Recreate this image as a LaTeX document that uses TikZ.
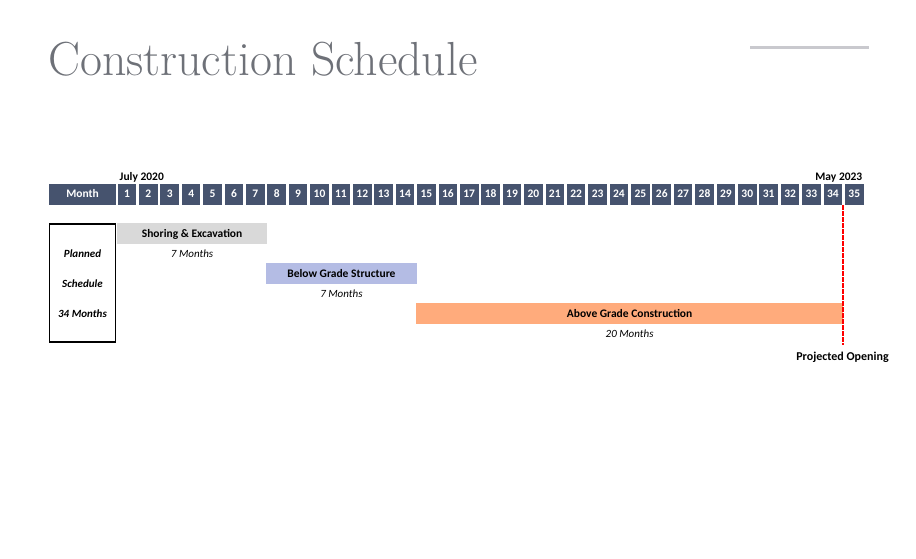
\documentclass[tikz,border=0pt]{standalone}
\usepackage{fontspec}
\setsansfont{Carlito}
\usepackage{xcolor}
\usetikzlibrary{positioning}
\definecolor{slate}{HTML}{46536E}
\definecolor{titlegray}{HTML}{6E7178}
\definecolor{rulegray}{HTML}{C9C9CE}
\definecolor{shorefill}{HTML}{D9D9D9}
\definecolor{belowfill}{HTML}{B4BCE4}
\definecolor{abovefill}{HTML}{FFAB7C}
\tikzset{
  monthcell/.style={fill=slate,text=white,font=\sffamily\bfseries\fontsize{11.5}{12}\selectfont,
    minimum width=18.6pt,minimum height=21pt,inner sep=0pt,text height=7.5pt,text depth=0pt},
  taskbar/.style={minimum height=21pt,inner sep=0pt,text height=7.5pt,text depth=0pt,
    font=\sffamily\bfseries\fontsize{11.5}{12}\selectfont},
  durlabel/.style={font=\sffamily\itshape\fontsize{11}{12}\selectfont,inner sep=1pt,
    text height=8pt,text depth=2.5pt},
  sidelabel/.style={font=\sffamily\bfseries\itshape\fontsize{11}{12}\selectfont,inner sep=1pt},
  datelabel/.style={font=\sffamily\bfseries\fontsize{11.5}{12}\selectfont,inner sep=0pt},
  openline/.style={draw=red,line width=1.8pt,dash pattern=on 5pt off 1pt}
}

\begin{document}
\begin{tikzpicture}[x=1pt,y=-1pt]
\useasboundingbox (0,0) rectangle (916,558);
% title and rule
\node[anchor=base west,inner sep=0pt,text=titlegray,font=\fontsize{47.8}{52}\selectfont] (title) at (48,75) {Construction Schedule};
\draw[rulegray,line width=3pt] (750,47.5) -- (869,47.5);

% month header
\node[monthcell,minimum width=67pt] (month) at (82.5,194) {Month};
\foreach \k in {1,...,35}
  \node[monthcell] (m\k) at ({127+(\k-1)*21.39},194) {\k};
\node[datelabel,anchor=base west] (start) at (119.5,180) {July 2020};
\node[datelabel,anchor=base east] (finish) at (862.5,180) {May 2023};

% planned schedule box
\node[draw=black,line width=1.8pt,minimum width=66pt,minimum height=118pt,inner sep=0pt] (plan) at (82.5,283.3) {};
\node[sidelabel] (planned) at (82.5,253.5) {Planned};
\node[sidelabel] (sched) at (82.5,283.5) {Schedule};
\node[sidelabel] (total) at (82.5,313.5) {34 Months};

% phases
\node[taskbar,fill=shorefill,minimum width=150.7pt] (shoring) at (192.1,233.8) {Shoring \& Excavation};
\node[durlabel,below=3.5pt of shoring] (shoringdur) {7 Months};
\node[taskbar,fill=belowfill,minimum width=150.7pt] (belowgrade) at (341.4,273.8) {Below Grade Structure};
\node[durlabel,below=3.5pt of belowgrade] (belowdur) {7 Months};
\node[taskbar,fill=abovefill,minimum width=427.5pt] (abovegrade) at (629.6,313.8) {Above Grade Construction};
\node[durlabel,below=3.5pt of abovegrade] (abovedur) {20 Months};

% projected opening
\node[datelabel,font=\sffamily\bfseries\fontsize{12}{13}\selectfont] (opening) at (842.5,357) {Projected Opening};
\coordinate (opentop) at (842.8,205);
\coordinate (openend) at (842.8,345);
\draw[openline] (opentop) -- (openend);
\end{tikzpicture}
\end{document}
